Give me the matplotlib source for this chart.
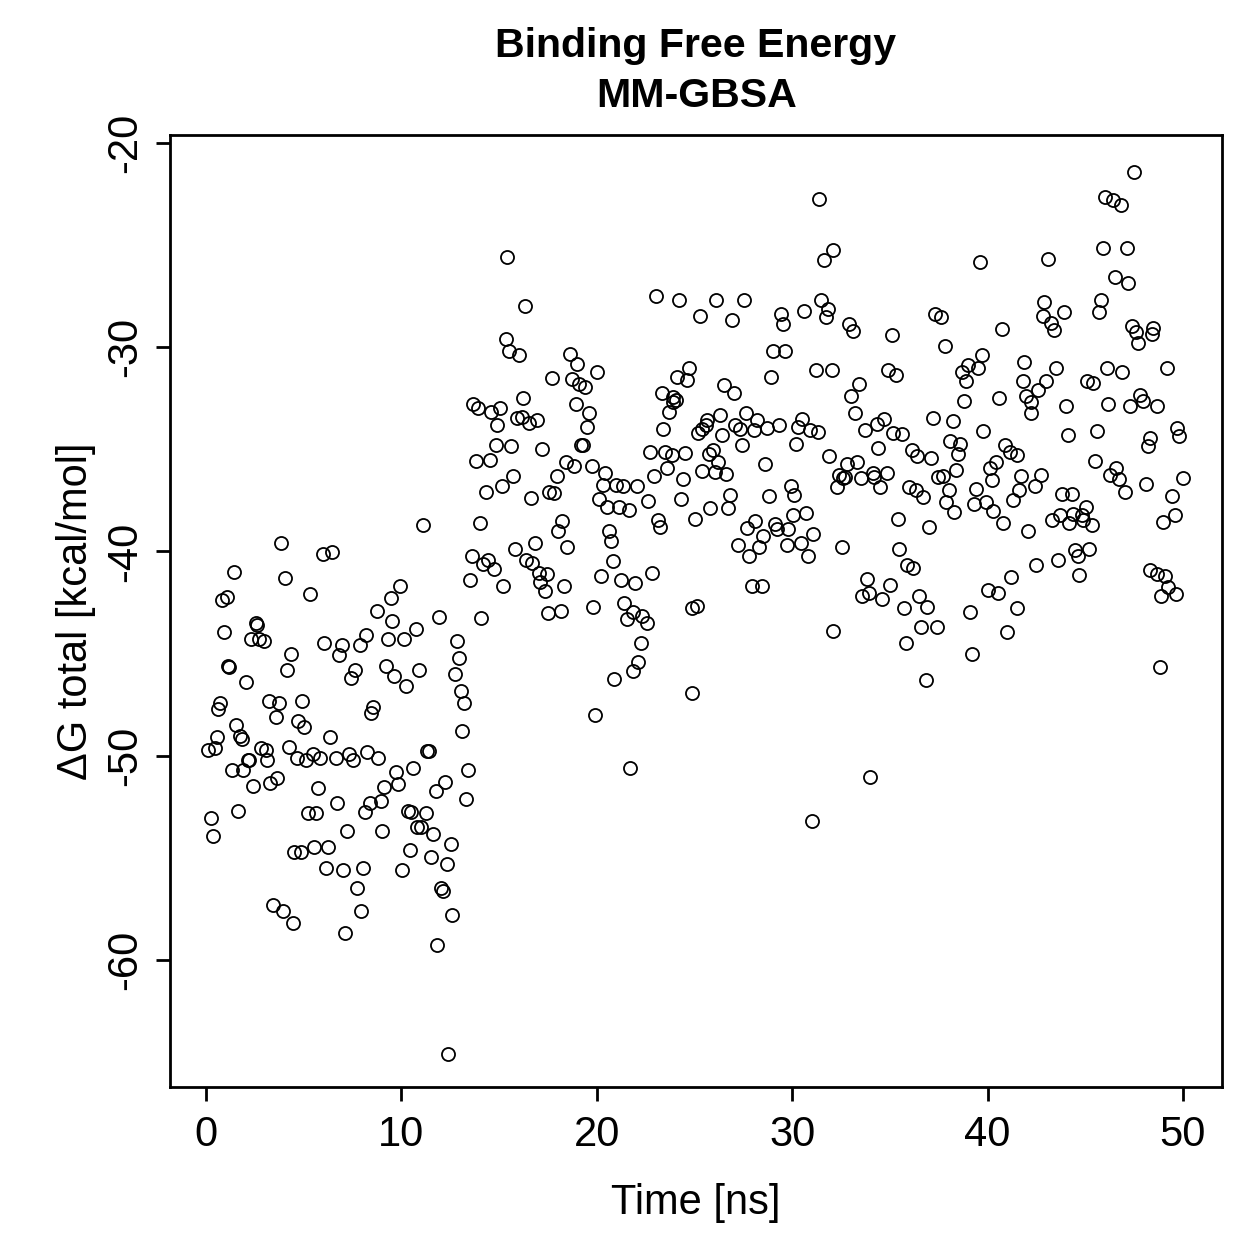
import matplotlib
matplotlib.use("Agg")
import matplotlib.pyplot as plt

time_ns = [
    3.82, 5.97, 6.47, 1.45, 4.04, 5.32, 0.83, 1.06, 2.56, 2.59, 0.94, 2.30, 2.73, 2.97, 6.04, 6.94, 6.82, 7.90, 8.19, 4.33,
    1.14, 1.18, 4.13, 2.03, 7.61, 7.42, 0.72, 0.63, 3.24, 3.75, 4.93, 3.57, 1.53, 4.72, 5.03, 8.45, 0.55, 1.74, 1.86, 0.12,
    0.46, 6.35, 2.80, 3.07, 2.15, 2.20, 3.14, 1.91, 1.35, 4.23, 4.64, 5.12, 5.46, 5.83, 6.64, 7.34, 7.54, 8.25, 2.42, 3.28,
    3.65, 5.73, 6.72, 5.24, 5.63, 1.65, 0.24, 8.14, 0.34, 7.23, 4.52, 4.86, 5.52, 6.23, 6.12, 7.03, 8.05, 7.75, 7.92, 3.44,
    3.96, 4.44, 7.13,
    11.12, 14.02, 13.60, 14.19, 14.42, 13.51, 9.93, 9.45, 8.74, 9.53, 11.92, 14.10, 9.33, 10.13, 10.73, 12.83, 12.93, 12.76,
    13.03, 13.22, 9.21, 9.62, 10.24, 10.92, 8.56, 13.12, 8.82, 11.33, 11.40, 10.61, 9.72, 9.84, 12.23, 11.76, 13.42, 9.13,
    8.39, 8.94, 13.33, 10.32, 10.48, 11.24, 9.02, 10.81, 10.99, 11.63, 12.52, 10.44, 11.51, 12.32, 10.01, 12.02, 12.14, 12.61,
    11.83, 12.40,
    15.42, 16.33, 15.34, 15.52, 16.03, 18.63, 19.00, 19.99, 17.71, 18.71, 19.07, 19.41, 16.24, 13.68, 13.94, 14.61, 15.05,
    14.92, 15.93, 16.15, 16.54, 16.92, 18.92, 19.61, 19.51, 19.22, 19.30, 14.84, 15.61, 17.21, 13.82, 14.53, 18.41, 18.83,
    19.74, 20.42, 15.72, 17.95, 15.13, 14.33, 16.61, 17.57, 17.82, 20.34, 20.99, 21.33, 22.04, 20.13, 20.51, 21.15, 21.65,
    18.23, 18.00, 20.64, 20.73, 16.83, 15.81, 18.50, 14.74, 16.40, 16.71, 17.04, 17.44, 17.09, 17.35, 18.32, 15.22, 20.81,
    20.21, 21.22, 21.95, 17.52, 18.15, 19.82, 21.40, 21.84, 21.53, 22.30, 22.26, 22.12, 21.87, 20.90, 19.91, 21.70,
    23.01, 24.22, 26.12, 27.52, 25.30, 26.92, 29.41, 29.51, 30.61, 31.50, 31.81, 31.71, 29.00, 29.63, 31.20, 32.02, 28.90,
    24.73, 24.12, 24.62, 26.53, 27.02, 23.32, 23.91, 24.04, 23.91, 23.71, 23.40, 25.62, 25.57, 25.20, 25.37, 26.32, 26.42,
    27.62, 27.07, 27.33, 28.21, 28.05, 28.73, 29.34, 27.41, 30.51, 30.31, 30.91, 31.34, 30.22, 22.72, 23.49, 23.83, 24.51,
    25.75, 25.93, 26.22, 26.03, 26.61, 25.40, 23.62, 22.93, 24.42, 28.61, 31.89, 22.60, 24.30, 26.82, 26.73, 25.82, 28.81,
    29.92, 30.11, 32.28, 23.14, 23.23, 25.02, 28.10, 27.70, 28.52, 28.30, 27.21, 27.80, 29.12, 29.20, 29.81, 30.02, 30.70,
    31.08, 29.72, 30.43, 30.82, 22.81, 27.93, 28.44, 24.85, 25.14, 22.55, 32.10, 24.90, 31.03, 31.37, 31.63, 32.07,
    39.61, 32.91, 33.13, 35.11, 37.31, 37.62, 37.82, 40.72, 34.92, 35.31, 33.42, 33.01, 33.21, 39.70, 39.49, 38.98, 38.71,
    38.89, 41.88, 41.80, 41.98, 42.20, 42.25, 38.79, 40.60, 34.32, 34.71, 33.73, 35.17, 35.63, 37.22, 38.21, 39.79, 32.79,
    33.30, 32.41, 32.61, 32.70, 34.41, 33.51, 34.12, 34.19, 34.84, 34.49, 36.11, 36.40, 37.10, 35.99, 36.34, 36.71, 37.47,
    37.73, 38.10, 38.61, 38.50, 38.38, 38.03, 37.90, 38.29, 40.89, 41.15, 41.50, 40.43, 40.12, 40.21, 39.41, 39.30, 39.90,
    40.29, 40.80, 41.72, 41.61, 41.32, 42.05, 35.40, 37.02, 32.53, 35.48, 35.89, 36.20, 33.81, 33.93, 35.00, 33.56, 34.58,
    36.50, 41.22, 40.04, 40.55, 35.72, 36.91, 39.10, 41.52, 36.62, 37.39, 35.81, 41.00, 39.19, 36.83, 34.00,
    47.49, 46.00, 46.43, 46.81, 45.89, 47.12, 43.11, 46.52, 47.20, 42.89, 42.82, 43.25, 43.42, 43.91, 45.80, 45.70, 47.40,
    47.59, 47.71, 48.48, 48.43, 43.50, 42.99, 42.60, 44.01, 46.13, 46.89, 45.07, 45.41, 46.18, 47.80, 47.94, 47.29, 48.69,
    49.21, 44.10, 45.58, 48.31, 48.19, 49.71, 49.81, 42.43, 42.72, 45.48, 46.60, 46.26, 46.72, 47.03, 48.11, 50.00, 49.42,
    49.59, 48.99, 43.79, 44.33, 45.02, 44.81, 44.39, 43.70, 43.28, 44.18, 44.90, 45.33, 44.47, 44.64, 45.20, 42.50, 43.59,
    44.68, 48.33, 48.67, 49.08, 49.25, 48.87, 49.64, 48.83,
]

dg_total = [
    -39.6, -40.1, -40.05, -41.0, -41.3, -42.1, -42.4, -42.25, -43.5, -43.6, -43.95, -44.3, -44.3, -44.4, -44.5, -44.6, -45.05, -44.6, -44.1, -45.0,
    -45.6, -45.65, -45.8, -46.4, -45.8, -46.2, -47.4, -47.7, -47.3, -47.4, -47.3, -48.1, -48.5, -48.3, -48.6, -47.9, -49.1, -49.05, -49.2, -49.7,
    -49.6, -49.1, -49.6, -49.7, -50.2, -50.2, -50.2, -50.7, -50.7, -49.55, -50.1, -50.2, -49.9, -50.1, -50.1, -49.9, -50.2, -49.8, -51.5, -51.35,
    -51.1, -51.6, -52.3, -52.8, -52.8, -52.7, -53.05, -52.75, -53.95, -53.7, -54.7, -54.7, -54.45, -54.45, -55.5, -55.6, -55.5, -56.5, -57.6, -57.3,
    -57.6, -58.2, -58.7,
    -38.7, -38.6, -40.2, -40.6, -40.4, -41.4, -41.7, -42.3, -42.9, -43.4, -43.2, -43.25, -44.3, -44.3, -43.8, -44.4, -45.2, -46.0,
    -46.85, -47.4, -45.6, -46.1, -46.6, -45.8, -47.6, -48.8, -50.1, -49.75, -49.75, -50.6, -50.8, -51.4, -51.3, -51.75, -50.7, -51.55,
    -52.3, -52.2, -52.1, -52.7, -52.75, -52.8, -53.7, -53.5, -53.5, -53.85, -54.3, -54.6, -54.95, -55.3, -55.6, -56.5, -56.6, -57.8,
    -59.25, -64.6,
    -25.6, -28.0, -29.6, -30.2, -30.4, -30.35, -30.8, -31.2, -31.5, -31.55, -31.8, -31.95, -32.5, -32.8, -33.0, -33.15, -33.0,
    -33.8, -33.45, -33.4, -33.7, -33.55, -32.8, -33.2, -33.9, -34.8, -34.8, -34.8, -34.85, -35.0, -35.55, -35.5, -35.6, -35.8,
    -35.8, -36.15, -36.3, -36.3, -36.8, -37.1, -37.4, -37.1, -37.15, -36.75, -36.75, -36.8, -36.8, -37.45, -37.8, -37.8, -37.95,
    -38.5, -39.0, -39.0, -39.5, -39.6, -39.9, -39.8, -40.85, -40.4, -40.55, -41.05, -41.1, -41.5, -41.95, -41.7, -41.7, -40.45,
    -41.2, -41.4, -41.55, -43.0, -42.9, -42.7, -42.5, -42.95, -43.3, -43.15, -44.5, -45.4, -45.85, -46.25, -48.0, -50.6,
    -27.5, -27.7, -27.7, -27.7, -28.45, -28.65, -28.35, -28.85, -28.25, -27.7, -28.15, -28.5, -30.2, -30.2, -31.1, -31.1, -31.45,
    -31.0, -31.45, -31.6, -31.85, -32.25, -32.25, -32.45, -32.6, -32.7, -33.15, -34.0, -33.55, -33.8, -34.2, -34.0, -33.3, -34.3,
    -33.2, -33.8, -34.0, -33.55, -34.05, -33.95, -33.8, -34.8, -33.5, -33.9, -34.05, -34.15, -34.75, -35.15, -35.15, -35.3, -35.2,
    -35.25, -35.05, -35.6, -36.1, -36.2, -36.05, -35.9, -36.3, -36.45, -35.7, -35.35, -37.55, -37.45, -37.25, -37.85, -37.85, -37.3,
    -36.8, -37.25, -36.85, -38.45, -38.8, -38.4, -38.5, -38.85, -39.25, -39.8, -39.7, -40.2, -38.65, -38.9, -38.9, -38.2, -38.1,
    -39.15, -39.7, -39.6, -40.2, -41.05, -41.7, -41.7, -42.75, -42.65, -43.5, -43.9, -46.95, -53.2, -22.75, -25.75, -25.25,
    -25.85, -28.85, -29.2, -29.4, -28.35, -28.5, -29.95, -29.1, -31.1, -31.35, -31.8, -32.4, -33.2, -30.4, -31.0, -30.85, -31.2,
    -31.65, -30.7, -31.65, -32.4, -32.7, -33.2, -32.65, -32.5, -33.75, -33.5, -34.05, -34.2, -34.25, -33.45, -33.6, -34.1, -35.7,
    -35.6, -36.25, -36.4, -36.35, -34.95, -36.4, -36.15, -36.35, -36.15, -36.85, -35.05, -35.35, -35.4, -36.85, -37.0, -37.35, -36.35,
    -36.3, -34.6, -34.75, -35.25, -36.0, -37.0, -37.6, -38.05, -34.8, -35.15, -35.3, -35.6, -35.9, -36.5, -36.95, -37.7, -37.6,
    -38.0, -38.6, -36.3, -37.0, -37.5, -39.0, -38.4, -38.8, -39.8, -39.9, -40.65, -40.8, -41.35, -42.05, -41.65, -42.2, -42.35,
    -42.2, -41.25, -41.9, -42.05, -42.75, -42.7, -42.95, -42.75, -43.7, -43.7, -44.5, -43.95, -45.0, -46.3, -51.05,
    -21.4, -22.65, -22.8, -23.05, -25.15, -25.15, -25.7, -26.55, -26.85, -27.8, -28.45, -28.8, -29.15, -28.3, -27.7, -28.3, -28.95,
    -29.25, -29.8, -29.05, -29.35, -31.0, -31.65, -32.1, -32.9, -31.0, -31.2, -31.65, -31.75, -32.8, -32.35, -32.65, -32.9, -32.9,
    -31.0, -34.3, -34.1, -34.45, -34.85, -33.95, -34.35, -36.8, -36.25, -35.55, -35.9, -36.25, -36.45, -37.1, -36.7, -36.4, -37.3,
    -38.2, -38.55, -37.2, -37.2, -37.8, -38.2, -38.15, -38.2, -38.45, -38.6, -38.45, -38.7, -39.95, -40.2, -39.9, -40.65, -40.4,
    -41.15, -40.9, -41.1, -41.2, -41.75, -42.2, -42.1, -45.65,
]

x_ticks = [0, 10, 20, 30, 40, 50]
y_ticks = [-20, -30, -40, -50, -60]
title_lines = ["Binding Free Energy", "MM-GBSA"]
x_label = "Time [ns]"
y_label = "\u0394G total [kcal/mol]"

plt.rcParams["font.family"] = ["Liberation Sans", "DejaVu Sans"]

W = H = 1259
fig = plt.figure(figsize=(W / 200, H / 200), dpi=200)
L, R, T, B = 170, 1222, 135, 1087
ax = fig.add_axes([L / W, 1 - B / H, (R - L) / W, (B - T) / H])

n = min(len(time_ns), len(dg_total))
ax.plot(time_ns[:n], dg_total[:n], linestyle="none", marker="o", markerfacecolor="none",
        markeredgecolor="black", markersize=4.7, markeredgewidth=0.65)

ax.set_xlim(-1.84, 52.0)
ax.set_ylim(-66.22, -19.61)
ax.set_xticks(x_ticks)
ax.set_yticks(y_ticks)
ax.set_xticklabels([str(v) for v in x_ticks])
ax.set_yticklabels([str(v) for v in y_ticks], rotation=90, va="center")
for s in ax.spines.values():
    s.set_linewidth(1.0)
ax.tick_params(direction="out", length=5, width=1.0, labelsize=15, color="black")
ax.tick_params(axis="x", pad=5)
ax.tick_params(axis="y", pad=4)

fig.text(696 / W, 1 - 46 / H, title_lines[0], ha="center", va="center", fontsize=14.8, fontweight="bold")
fig.text(697 / W, 1 - 96 / H, title_lines[1], ha="center", va="center", fontsize=14.8, fontweight="bold")
fig.text(696 / W, 1 - 1203 / H, x_label, ha="center", va="center", fontsize=15)
fig.text(76 / W, 1 - 611 / H, y_label, ha="center", va="center", rotation=90, fontsize=15)

fig.savefig("out.png", dpi=200)
